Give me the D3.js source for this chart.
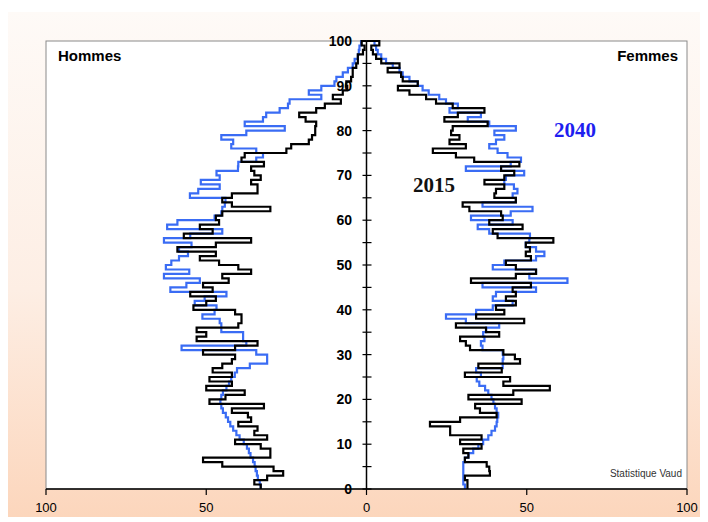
<!DOCTYPE html>
<html><head><meta charset="utf-8">
<script src="https://cdn.jsdelivr.net/npm/d3@7"></script>
<style>html,body{margin:0;padding:0;background:#fff;}svg{display:block;}</style>
</head><body>
<svg id="c" width="708" height="522"></svg>
<script>
// Ages 0..99, one value per age
const ages = d3.range(0, 100);
const hommes2015 = [33,35,31,26,29,45,51,30,30,33,41,31,35,34,40,36,37,42,32,49,44,38,50,42,49,42,48,45,42,41,51,41,34,53,50,53,40,39,39,41,54,50,47,55,48,51,43,45,36,40,46,52,47,59,47,36,57,48,52,46,47,45,30,42,45,42,34,34,36,33,35,36,32,39,38,25,23.5,18,17,16,16,15.7,19,21,15.7,13,8,10.5,7.4,6,6.3,4.8,4.3,4.3,3.2,2.7,2.7,1.1,0.6,1.5];
const hommes2040 = [33,33.3,33.9,34.2,34.6,34.9,35.4,36.2,36.7,37.3,38.3,39.6,40.6,41.6,42.5,43.2,43.9,44.8,45.3,45.6,45.3,44.8,43.7,42.9,42.2,41.1,40.4,36.4,31,31,34.4,57.7,37.5,38.5,38.5,45.3,45.3,45.8,51.2,47.4,46.8,53.6,50.5,43.7,61.2,56.2,52,63.2,55.3,62.6,60.9,58.5,55.7,58.5,54.6,63.2,55,45,62.2,59,47.4,45.3,45,44.2,44,55.1,52.5,45.8,51.7,45.8,46.8,40.1,40,34.4,32.3,34.4,42.2,41.6,45.3,37.5,25.5,38,32.3,31.3,27.1,24.5,24,14.1,18,14.1,10,9.4,7.4,5.8,4.3,3.7,2.7,2.4,2.2,1.7];
const femmes2015 = [31.5,31.5,30.7,38.5,38.3,37.5,30.7,31.8,30.2,35.9,29.2,35.9,26.1,26.1,19.8,29.2,40.6,35.4,33.9,48.4,31.8,45.8,57.2,42.7,44.8,30.7,42.2,34.9,47.9,46.3,42.7,32.3,31,29.2,41.4,37.3,27.9,49.2,34.2,43,40.4,46.6,43.5,46.6,45.6,51.3,32.6,46.6,52.9,46.6,43.5,51.3,49.7,51,49.7,58.3,40.9,39.4,48.7,38.3,42.5,42,32.1,30,46.6,39.9,40.4,43,36.8,43,46.1,42,47.7,33.6,27.9,20.7,31,25.9,29,26.4,26.9,37.8,24.3,28.5,36.8,26.9,21.7,18.6,13.4,9.8,16,11.3,10.8,6.6,10.3,4.6,3,2,1.5,4];
const femmes2040 = [30.7,30.2,30.2,30.2,30.2,30.2,30.7,31.8,33.3,34.9,36.4,38,39,40.1,40.6,40.8,41.1,40.6,40.1,39.6,39,38,37,35.2,34.4,35.7,34.2,42.5,42.5,42.7,42.5,36.2,35.7,36.8,36.4,37.3,41.4,31,24.8,34.2,39.4,45.6,39.4,40.4,52.9,36.2,62.7,50.8,52.9,39.4,43,52.9,55.5,52.9,49.7,50.8,51,38.3,34.7,45.6,32.6,45,51.8,36.2,46.6,45.6,47.1,46,43,43.5,49.2,31,45,48.2,44,40.9,38.3,40.4,43,39.9,46.6,38.3,31.6,35.7,25.9,28.5,24.8,22.7,19.4,17.5,16,13.4,11.3,10.3,8.2,6.1,4.6,3.5,3,2.5];
const xTicks = [-100, -50, 0, 50, 100];
const yTicks = d3.range(0, 101, 5);
const yLabels = d3.range(0, 101, 10);

const svg = d3.select('#c');
const defs = svg.append('defs');
const g = defs.append('linearGradient').attr('id','bg').attr('x1',0).attr('y1',0).attr('x2',0).attr('y2',1);
g.append('stop').attr('offset','0%').attr('stop-color','#fefaf7');
g.append('stop').attr('offset','55%').attr('stop-color','#fdeee4');
g.append('stop').attr('offset','100%').attr('stop-color','#fcd6bc');

svg.append('rect').attr('x',8).attr('y',12).attr('width',692).attr('height',505).attr('fill','url(#bg)');

const L = 46, R = 687, T = 41, B = 489;
const x = d3.scaleLinear().domain([-100, 100]).range([L, R]);
const y = d3.scaleLinear().domain([0, 100]).range([B, T]);

svg.append('rect').attr('x',L).attr('y',T).attr('width',R-L).attr('height',B-T)
  .attr('fill','#fff').attr('stroke','#8a8a8a').attr('stroke-width',1);

function stepPoints(vals, sign){
  const pts = [];
  vals.forEach((v,i)=>{ pts.push([sign*v, ages[i]]); pts.push([sign*v, ages[i]+1]); });
  pts.push([0, 100]);
  return pts;
}
const line = d3.line().x(d=>x(d[0])).y(d=>y(d[1]));

const series = [
  {vals: hommes2040, sign:-1, color:'#3a6cf4'},
  {vals: femmes2040, sign:1, color:'#3a6cf4'},
  {vals: hommes2015, sign:-1, color:'#000'},
  {vals: femmes2015, sign:1, color:'#000'}
];
series.forEach(s=>{
  svg.append('path').attr('d', line(stepPoints(s.vals, s.sign)))
    .attr('fill','none').attr('stroke', s.color).attr('stroke-width',2.2)
    .attr('stroke-linejoin','miter');
});

// x axis
svg.append('line').attr('x1',L).attr('x2',R).attr('y1',B).attr('y2',B).attr('stroke','#000').attr('stroke-width',1.5);
xTicks.forEach(t=>{
  svg.append('line').attr('x1',x(t)).attr('x2',x(t)).attr('y1',B).attr('y2',B+6).attr('stroke','#000').attr('stroke-width',1.2);
  svg.append('text').attr('x',x(t)).attr('y',512).attr('text-anchor','middle')
    .attr('font-family','Liberation Sans, Arial, sans-serif').attr('font-size',13).attr('fill','#000')
    .text(Math.abs(t));
});

// y axis at 0
const x0 = x(0);
svg.append('line').attr('x1',x0).attr('x2',x0).attr('y1',B).attr('y2',T).attr('stroke','#000').attr('stroke-width',1.5);
yTicks.forEach(t=>{
  svg.append('line').attr('x1',x0-4).attr('x2',x0+5).attr('y1',y(t)).attr('y2',y(t)).attr('stroke','#000').attr('stroke-width',1.2);
});
yLabels.forEach(t=>{
  svg.append('text').attr('x',352).attr('y',y(t)+5).attr('text-anchor','end')
    .attr('font-family','Liberation Sans, Arial, sans-serif').attr('font-weight','bold').attr('font-size',14).attr('fill','#000')
    .text(t);
});

svg.append('text').attr('x',58).attr('y',61).attr('font-family','Liberation Sans, Arial, sans-serif')
  .attr('font-weight','bold').attr('font-size',15).text('Hommes');
svg.append('text').attr('x',678).attr('y',61).attr('text-anchor','end').attr('font-family','Liberation Sans, Arial, sans-serif')
  .attr('font-weight','bold').attr('font-size',15).text('Femmes');
svg.append('text').attr('x',554).attr('y',137).attr('font-family','Liberation Serif, Times New Roman, serif')
  .attr('font-weight','bold').attr('font-size',21).attr('fill','#1e1ef0').text('2040');
svg.append('text').attr('x',413).attr('y',192).attr('font-family','Liberation Serif, Times New Roman, serif')
  .attr('font-weight','bold').attr('font-size',21).attr('fill','#111').text('2015');
svg.append('text').attr('x',682).attr('y',477).attr('text-anchor','end').attr('font-family','Liberation Sans, Arial, sans-serif')
  .attr('font-size',10).attr('fill','#333').text('Statistique Vaud');
</script>
</body></html>
